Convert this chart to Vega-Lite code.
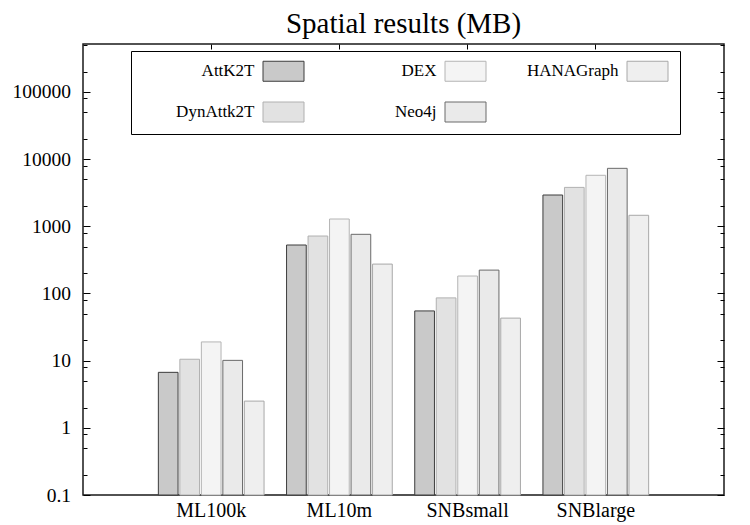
{
  "$schema": "https://vega.github.io/schema/vega-lite/v6.json",
  "width": 641,
  "height": 451,
  "autosize": {"type": "none"},
  "padding": {"left": 83, "top": 44, "right": 26, "bottom": 30},
  "background": "white",
  "title": {
    "text": "Spatial results (MB)",
    "font": "Liberation Serif",
    "fontSize": 29,
    "fontWeight": "normal",
    "color": "#000",
    "anchor": "middle",
    "baseline": "alphabetic",
    "offset": 12,
    "dy": 30
  },
  "config": {
    "view": {"stroke": "#1a1a1a", "strokeWidth": 1.5},
    "axis": {
      "labelFont": "Liberation Serif",
      "labelColor": "#000",
      "domain": false,
      "grid": false,
      "tickColor": "#000",
      "tickWidth": 1,
      "title": null
    }
  },
  "data": {
    "values": [
      {"dataset": "ML100k", "system": "AttK2T", "mb": 6.7},
      {"dataset": "ML100k", "system": "DynAttk2T", "mb": 10.5},
      {"dataset": "ML100k", "system": "DEX", "mb": 19},
      {"dataset": "ML100k", "system": "Neo4j", "mb": 10.1},
      {"dataset": "ML100k", "system": "HANAGraph", "mb": 2.5},
      {"dataset": "ML10m", "system": "AttK2T", "mb": 527},
      {"dataset": "ML10m", "system": "DynAttk2T", "mb": 717},
      {"dataset": "ML10m", "system": "DEX", "mb": 1285},
      {"dataset": "ML10m", "system": "Neo4j", "mb": 760},
      {"dataset": "ML10m", "system": "HANAGraph", "mb": 274},
      {"dataset": "SNBsmall", "system": "AttK2T", "mb": 55},
      {"dataset": "SNBsmall", "system": "DynAttk2T", "mb": 86},
      {"dataset": "SNBsmall", "system": "DEX", "mb": 182},
      {"dataset": "SNBsmall", "system": "Neo4j", "mb": 223},
      {"dataset": "SNBsmall", "system": "HANAGraph", "mb": 43},
      {"dataset": "SNBlarge", "system": "AttK2T", "mb": 2925},
      {"dataset": "SNBlarge", "system": "DynAttk2T", "mb": 3800},
      {"dataset": "SNBlarge", "system": "DEX", "mb": 5750},
      {"dataset": "SNBlarge", "system": "Neo4j", "mb": 7300},
      {"dataset": "SNBlarge", "system": "HANAGraph", "mb": 1460}
    ]
  },
  "layer": [
    {
      "mark": {"type": "bar", "strokeWidth": 1},
      "encoding": {
        "x": {
          "field": "dataset",
          "type": "nominal",
          "sort": ["ML100k", "ML10m", "SNBsmall", "SNBlarge"],
          "scale": {"paddingInner": 0.1755, "paddingOuter": 0.5877},
          "axis": {"orient": "bottom", "labelAngle": 0, "labelFontSize": 20, "ticks": false, "labelPadding": 5, "title": null}
        },
        "xOffset": {
          "field": "system",
          "type": "nominal",
          "sort": ["AttK2T", "DynAttk2T", "DEX", "Neo4j", "HANAGraph"],
          "scale": {"paddingInner": 0.084, "paddingOuter": 0}
        },
        "y": {
          "field": "mb",
          "type": "quantitative",
          "scale": {"type": "log", "domain": [0.1, 518000], "nice": false},
          "axis": {
            "orient": "left",
            "values": [0.1, 1, 10, 100, 1000, 10000, 100000],
            "format": "~g",
            "labelFontSize": 19.5,
            "labelOverlap": false,
            "labelFlush": false,
            "labelBound": false,
            "ticks": false,
            "labelPadding": 12.5,
            "title": null
          }
        },
        "y2": {"datum": 0.1},
        "fill": {
          "field": "system",
          "type": "nominal",
          "scale": {
            "domain": ["AttK2T", "DynAttk2T", "DEX", "Neo4j", "HANAGraph"],
            "range": ["#c9c9c9", "#e2e2e2", "#f4f4f4", "#eaeaea", "#efefef"]
          },
          "legend": {
            "orient": "none",
            "legendX": 48,
            "legendY": 7,
            "title": null,
            "columns": 3,
            "gridAlign": "all",
            "columnPadding": 14,
            "rowPadding": 16,
            "padding": 9.5,
            "strokeColor": "#000",
            "fillColor": "#fff",
            "symbolType": "M-14.3,0M-2.05,-1H2.05V1H-2.05Z",
            "symbolSize": 400,
            "symbolOffset": 132.5,
            "symbolStrokeWidth": 1,
            "symbolOpacity": 1,
            "labelAlign": "right",
            "labelBaseline": "middle",
            "labelOffset": -39.5,
            "labelFont": "Liberation Serif",
            "labelFontSize": 17,
            "labelColor": "#000",
            "labelLimit": 0
          }
        },
        "stroke": {
          "field": "system",
          "type": "nominal",
          "scale": {
            "domain": ["AttK2T", "DynAttk2T", "DEX", "Neo4j", "HANAGraph"],
            "range": ["#3c3c3c", "#b0b0b0", "#b4b4b4", "#6a6a6a", "#a8a8a8"]
          }
        }
      }
    },
    {
      "mark": {"type": "point", "opacity": 0},
      "encoding": {
        "x": {
          "field": "dataset",
          "type": "nominal",
          "sort": ["ML100k", "ML10m", "SNBsmall", "SNBlarge"],
          "axis": {"orient": "top", "labels": false, "tickSize": -5, "title": null}
        },
        "y": {
          "field": "mb",
          "type": "quantitative",
          "axis": {
            "orient": "left",
            "values": [0.1, 0.2, 0.5, 0.8, 1, 2, 5, 8, 10, 20, 50, 80, 100, 200, 500, 800, 1000, 2000, 5000, 8000, 10000, 20000, 50000, 80000, 100000, 200000, 500000],
            "labels": false,
            "tickSize": {"condition": {"test": "indexof([0.1, 1, 10, 100, 1000, 10000, 100000], datum.value) >= 0", "value": -7}, "value": -4},
            "title": null
          }
        }
      }
    },
    {
      "mark": {"type": "point", "opacity": 0},
      "encoding": {
        "x": {
          "field": "dataset",
          "type": "nominal",
          "sort": ["ML100k", "ML10m", "SNBsmall", "SNBlarge"],
          "axis": null
        },
        "y": {
          "field": "mb",
          "type": "quantitative",
          "axis": {
            "orient": "right",
            "values": [0.1, 0.2, 0.5, 0.8, 1, 2, 5, 8, 10, 20, 50, 80, 100, 200, 500, 800, 1000, 2000, 5000, 8000, 10000, 20000, 50000, 80000, 100000, 200000, 500000],
            "labels": false,
            "tickSize": {"condition": {"test": "indexof([0.1, 1, 10, 100, 1000, 10000, 100000], datum.value) >= 0", "value": -7}, "value": -4},
            "title": null
          }
        }
      }
    }
  ],
  "resolve": {"axis": {"x": "independent", "y": "independent"}}
}
